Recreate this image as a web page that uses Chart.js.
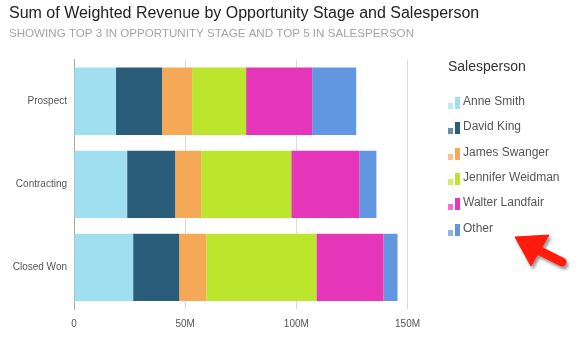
<!DOCTYPE html>
<html>
<head>
<meta charset="utf-8">
<script src="https://cdn.jsdelivr.net/npm/chart.js@4/dist/chart.umd.min.js"></script>
<style>
  body { margin: 0; background: #fff; }
  #wrap { position: relative; width: 581px; height: 339px; font-family: 'Liberation Sans', Arial, sans-serif; }
  #legend { position: absolute; left: 0; top: 0; }
  .lg-title { position: absolute; left: 448px; top: 56px; font-size: 14px; line-height: 20px; color: #333; white-space: nowrap; }
  .lg-item { position: absolute; left: 448px; height: 16px; width: 130px; }
  .lg-item .short { position: absolute; left: 0; top: 10px; width: 5px; height: 6px; opacity: 0.7; }
  .lg-item .tall { position: absolute; left: 7px; top: 4px; width: 5px; height: 12px; }
  .lg-item .txt { position: absolute; left: 15px; top: 0; font-size: 12px; line-height: 16px; color: #555; white-space: nowrap; }
  #arrow { position: absolute; left: 0; top: 0; pointer-events: none; }
</style>
</head>
<body>
<div id="wrap">
  <canvas id="myChart" width="581" height="339"></canvas>
  <div id="legend"></div>
  <svg id="arrow" width="581" height="339">
    <defs>
      <filter id="sh" x="-30%" y="-30%" width="160%" height="160%">
        <feDropShadow dx="2" dy="3" stdDeviation="1.5" flood-color="#444" flood-opacity="0.55"/>
      </filter>
    </defs>
    <g filter="url(#sh)" fill="#ff1a0a" stroke="#ff1a0a">
      <polygon points="515,237 549,235 531,266" stroke-width="1"/>
      <line x1="534" y1="248" x2="562" y2="262" stroke-width="9" stroke-linecap="round"/>
    </g>
  </svg>
</div>
<script>
const stages = ['Prospect', 'Contracting', 'Closed Won'];
const salespeople = ['Anne Smith', 'David King', 'James Swanger', 'Jennifer Weidman', 'Walter Landfair', 'Other'];

// weighted revenue, millions
const anneSmith      = [18.9, 23.9, 26.6];
const davidKing      = [20.7, 21.6, 20.7];
const jamesSwanger   = [13.5, 11.7, 12.2];
const jenniferWeidman = [24.3, 40.5, 49.5];
const walterLandfair = [29.7, 30.6, 30.2];
const other          = [19.8, 7.7, 6.3];

const xTicks = [0, 50, 100, 150];

const colors = ['#9fdfef', '#2a5d79', '#f5a855', '#bce52e', '#e535b9', '#6197e0'];
const series = [anneSmith, davidKing, jamesSwanger, jenniferWeidman, walterLandfair, other];

const font = "'Liberation Sans', Arial, sans-serif";

const data = {
  labels: stages,
  datasets: series.map((vals, i) => ({
    label: salespeople[i],
    data: vals,
    backgroundColor: colors[i],
    borderWidth: 0,
    categoryPercentage: 1,
    barPercentage: 0.81
  }))
};

const config = {
  type: 'bar',
  data: data,
  options: {
    indexAxis: 'y',
    responsive: false,
    animation: false,
    devicePixelRatio: 1,
    layout: {
      padding: { left: 9, right: 10, top: 4, bottom: 0 }
    },
    scales: {
      x: {
        stacked: true,
        min: 0,
        max: 223.5,
        afterBuildTicks: function (scale) {
          scale.ticks = xTicks.map(v => ({ value: v }));
        },
        grid: { color: '#dadada', lineWidth: 1, drawTicks: false },
        border: { display: false },
        ticks: {
          padding: 9,
          color: '#555',
          font: { family: font, size: 10 },
          callback: v => v === 0 ? '0' : v + 'M'
        }
      },
      y: {
        stacked: true,
        afterFit: function (scale) { scale.width = 65; },
        grid: { display: false, drawTicks: false },
        border: { display: true, color: '#a8a8a8', width: 1 },
        ticks: {
          padding: 7,
          color: '#555',
          font: { family: font, size: 10 }
        }
      }
    },
    plugins: {
      legend: { display: false },
      tooltip: { enabled: false },
      title: {
        display: true,
        text: 'Sum of Weighted Revenue by Opportunity Stage and Salesperson',
        align: 'start',
        color: '#222',
        font: { family: font, size: 16, weight: 'normal', lineHeight: 1.2 },
        padding: { top: 0, bottom: 0 }
      },
      subtitle: {
        display: true,
        text: 'SHOWING TOP 3 IN OPPORTUNITY STAGE AND TOP 5 IN SALESPERSON',
        align: 'start',
        color: '#a4a4a4',
        font: { family: font, size: 11.6, lineHeight: 1.2 },
        padding: { top: 3.3, bottom: 19.3 }
      }
    }
  }
};

var myChart = new Chart(document.getElementById('myChart'), config);

// legend on the right, built from the same series names and colours
const legend = document.getElementById('legend');
const head = document.createElement('div');
head.className = 'lg-title';
head.textContent = 'Salesperson';
legend.appendChild(head);
salespeople.forEach((name, i) => {
  const item = document.createElement('div');
  item.className = 'lg-item';
  item.style.top = (92.7 + i * 25.4) + 'px';
  item.innerHTML = '<span class="short"></span><span class="tall"></span><span class="txt"></span>';
  item.querySelector('.short').style.background = colors[i];
  item.querySelector('.tall').style.background = colors[i];
  item.querySelector('.txt').textContent = name;
  legend.appendChild(item);
});
</script>
</body>
</html>
